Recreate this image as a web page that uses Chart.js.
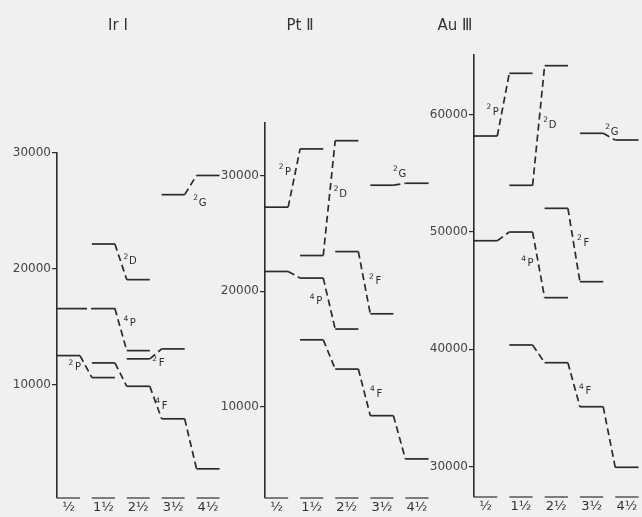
<!DOCTYPE html>
<html><head><meta charset="utf-8">
<script src="https://cdn.jsdelivr.net/npm/chart.js@4"></script>
<style>
html,body{margin:0;padding:0;background:#f0f0f0;}
body{width:642px;height:517px;position:relative;overflow:hidden;}
canvas{position:absolute;top:0;}
</style></head><body>
<canvas id="c1" width="222" height="517" style="left:0px"></canvas>
<canvas id="c2" width="223" height="517" style="left:208px"></canvas>
<canvas id="c3" width="224" height="517" style="left:417px"></canvas>
<script>
// J values (columns)
const jLabels = ['½','1½','2½','3½','4½'];

// Ir I  (cm-1), index = J column
const irTicks = [10000, 20000, 30000];
const ir2P = [12500, 10600, null, null, null];
const ir4P = [16560, 16560, 12930, null, null];
const ir2D = [null, 22140, 19060, null, null];
const ir4F = [null, 11870, 9850, 7040, 2720];
const ir2F = [null, null, 12220, 13080, null];
const ir2G = [null, null, null, 26400, 28060];

// Pt II
const ptTicks = [10000, 20000, 30000];
const pt2P = [27280, 32320, null, null, null];
const pt4P = [21720, 21150, 16740, null, null];
const pt2D = [null, 23100, 33030, null, null];
const pt4F = [null, 15810, 13280, 9250, 5510];
const pt2F = [null, null, 23440, 18060, null];
const pt2G = [null, null, null, 29180, 29350];

// Au III
const auTicks = [30000, 40000, 50000, 60000];
const au2P = [58170, 63510, null, null, null];
const au4P = [49250, 49990, 44400, null, null];
const au2D = [null, 53970, 64160, null, null];
const au4F = [null, 40370, 38860, 35110, 29950];
const au2F = [null, null, 52010, 45760, null];
const au2G = [null, null, null, 58400, 57830];

const HALF = 0.33;
const INK = '#2b2b2b';

function levelPoints(arr) {
  const pts = [];
  arr.forEach((v, j) => {
    if (v !== null) { pts.push({x: j - HALF, y: v}); pts.push({x: j + HALF, y: v}); }
  });
  return pts;
}
function baselinePoints(yMin) {
  const pts = [];
  jLabels.forEach((_, j) => {
    if (j > 0) pts.push({x: j - 0.5, y: null});
    pts.push({x: j - HALF, y: yMin}); pts.push({x: j + HALF, y: yMin});
  });
  return pts;
}

function makeChart(id, cfg) {
  const terms = cfg.terms;
  const datasets = terms.map(t => ({
    data: levelPoints(t.values),
    borderColor: INK, borderWidth: 1.7, pointRadius: 0, tension: 0, clip: false,
    segment: { borderDash: c => (c.p0DataIndex % 2 === 1 ? [7, 4] : undefined) }
  }));
  datasets.push({
    data: baselinePoints(cfg.yMin), borderColor: '#555', borderWidth: 1.4,
    pointRadius: 0, spanGaps: false, clip: false
  });
  const labelPlugin = {
    id: 'termLabels' + id,
    afterDatasetsDraw(chart) {
      const ctx = chart.ctx, xs = chart.scales.x, ys = chart.scales.y;
      ctx.save();
      ctx.fillStyle = INK;
      ctx.textAlign = 'center'; ctx.textBaseline = 'middle';
      terms.forEach(t => {
        const j = t.at;
        const px = xs.getPixelForValue(j + 0.5) + t.dx;
        const py = (ys.getPixelForValue(t.values[j]) + ys.getPixelForValue(t.values[j + 1])) / 2 + t.dy;
        ctx.font = '10px "DejaVu Sans"';
        ctx.fillText(t.letter, px, py);
        ctx.font = '7.5px "DejaVu Sans"';
        ctx.fillText(t.mult, px - 7, py - 5);
      });
      ctx.font = '15px "DejaVu Sans"';
      ctx.fillStyle = '#333';
      ctx.fillText(cfg.title, cfg.titleX, 26);
      ctx.restore();
    }
  };
  return new Chart(document.getElementById(id), {
    type: 'line',
    data: { datasets },
    options: {
      responsive: false, animation: false, devicePixelRatio: 1,
      layout: { padding: { top: cfg.top, bottom: cfg.bottom, left: 0, right: 0 } },
      plugins: { legend: { display: false }, tooltip: { enabled: false }, title: { display: false } },
      scales: {
        x: {
          type: 'linear', min: -HALF, max: 4.4,
          afterBuildTicks: s => { s.ticks = jLabels.map((_, i) => ({value: i})); },
          afterFit: s => { s.height = 19; },
          grid: { display: false, drawTicks: false }, border: { display: false },
          ticks: { padding: 2, color: '#333', autoSkip: false, maxRotation: 0,
            font: { family: 'DejaVu Sans', size: 13 }, callback: v => jLabels[v] }
        },
        y: {
          type: 'linear', min: cfg.yMin, max: cfg.yMax,
          afterBuildTicks: s => { s.ticks = cfg.ticks.map(v => ({value: v})); },
          afterFit: s => { s.width = 57; },
          grid: { drawOnChartArea: false, tickLength: 5, color: INK, lineWidth: 1.2 },
          border: { color: INK, width: 1.6 },
          ticks: { padding: 1, color: '#444', font: { family: 'DejaVu Sans', size: 12 },
            callback: v => String(v) }
        }
      }
    },
    plugins: [labelPlugin]
  });
}

makeChart('c1', {
  title: 'Ir I', titleX: 118, top: 153, bottom: 0, yMin: 200, yMax: 30000, ticks: irTicks,
  terms: [
    {values: ir2P, mult: '2', letter: 'P', at: 0, dx: -8, dy: 1},
    {values: ir4P, mult: '4', letter: 'P', at: 1, dx: 12, dy: -6},
    {values: ir2D, mult: '2', letter: 'D', at: 1, dx: 12, dy: 0},
    {values: ir4F, mult: '4', letter: 'F', at: 2, dx: 9, dy: 4},
    {values: ir2F, mult: '2', letter: 'F', at: 2, dx: 6, dy: 10},
    {values: ir2G, mult: '2', letter: 'G', at: 3, dx: 12, dy: 18}
  ]
});
makeChart('c2', {
  title: 'Pt Ⅱ', titleX: 92, top: 123, bottom: 0, yMin: 2130, yMax: 34560, ticks: ptTicks,
  terms: [
    {values: pt2P, mult: '2', letter: 'P', at: 0, dx: -6, dy: -6},
    {values: pt4P, mult: '4', letter: 'P', at: 1, dx: -10, dy: -2},
    {values: pt2D, mult: '2', letter: 'D', at: 1, dx: 14, dy: -4},
    {values: pt4F, mult: '4', letter: 'F', at: 2, dx: 15, dy: 2},
    {values: pt2F, mult: '2', letter: 'F', at: 2, dx: 14, dy: -1},
    {values: pt2G, mult: '2', letter: 'G', at: 3, dx: 3, dy: -10}
  ]
});
makeChart('c3', {
  title: 'Au Ⅲ', titleX: 38, top: 55, bottom: 1, yMin: 27420, yMax: 65070, ticks: auTicks,
  terms: [
    {values: au2P, mult: '2', letter: 'P', at: 0, dx: -7.5, dy: 7.5},
    {values: au4P, mult: '4', letter: 'P', at: 1, dx: -8, dy: -1},
    {values: au2D, mult: '2', letter: 'D', at: 1, dx: 14, dy: 0},
    {values: au4F, mult: '4', letter: 'F', at: 2, dx: 14.5, dy: 7},
    {values: au2F, mult: '2', letter: 'F', at: 2, dx: 12.5, dy: -2},
    {values: au2G, mult: '2', letter: 'G', at: 3, dx: 5.5, dy: -4.5}
  ]
});
</script>
</body></html>
